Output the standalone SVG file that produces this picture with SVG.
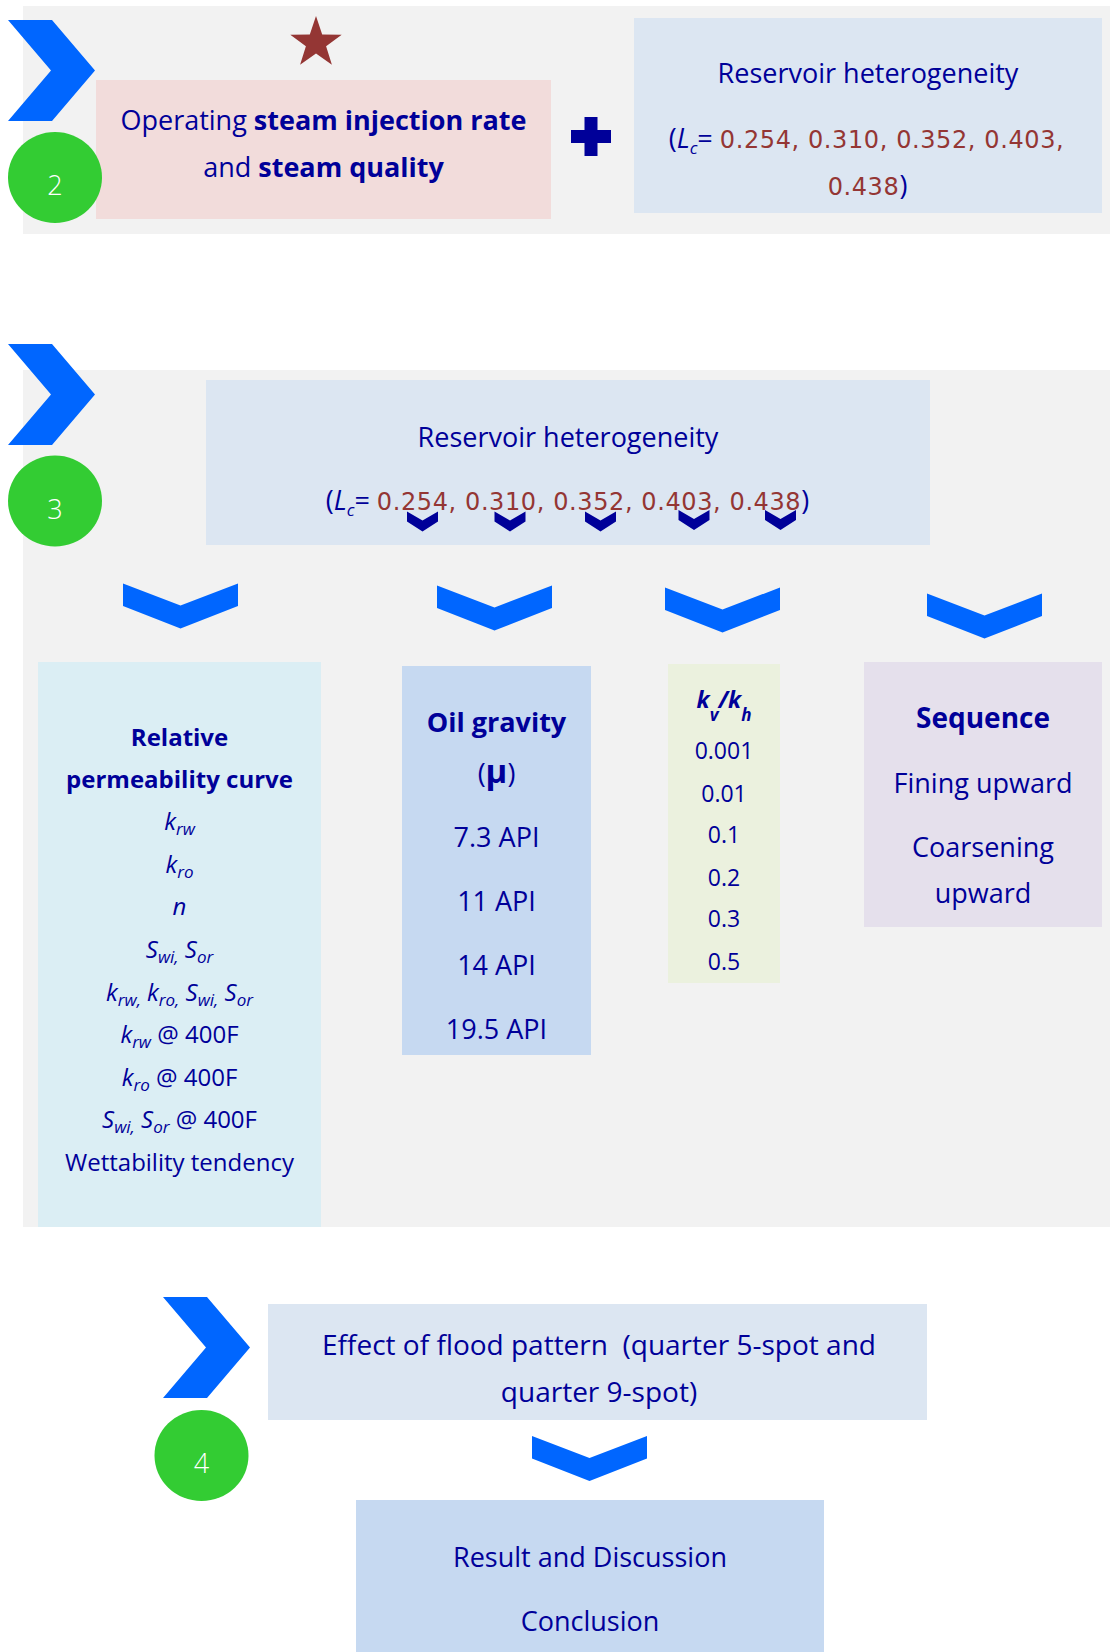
<svg xmlns="http://www.w3.org/2000/svg" xmlns:xlink="http://www.w3.org/1999/xlink" width="1110" height="1652" viewBox="0 0 1110 1652">
<style>
.t{font-family:"Open Sans","Liberation Sans",sans-serif;fill:#000099;text-anchor:middle;font-size:27px}
.b{font-weight:bold}
.i{font-style:italic}
.n{font-style:normal}
.num{font-family:"DejaVu Sans","Liberation Sans",sans-serif;fill:#943634;font-size:24px;font-style:normal;letter-spacing:0.6px}
.sub{font-size:17px}
.lbl{font-size:24px}
.kv{font-size:23px}
.step{fill:#0066FF}
.down{fill:#0066FF}
.small{fill:#000099}
.circ{fill:#33CC33}
.cn{font-family:"Open Sans","Liberation Sans",sans-serif;fill:#FFFFFF;font-size:27px;font-weight:300;text-anchor:middle}
</style>
<defs>
<path id="stepChevron" d="M0,0 H44 L87,50.5 L44,101 H0 L43,50.5 Z"/>
<path id="downChevron" d="M0,0 L57.5,22 L115,0 V22.5 L57.5,45 L0,22.5 Z"/>
<path id="smallChevron" d="M0,0 L15.5,9 L31,0 V10 L15.5,20 L0,10 Z"/>
</defs>
<rect width="1110" height="1652" fill="#FFFFFF"/>

<!-- panels -->
<rect id="panel2" x="23" y="6" width="1087" height="228" fill="#F2F2F2"/>
<rect id="panel3" x="23" y="370" width="1087" height="857" fill="#F2F2F2"/>

<!-- star -->
<polygon id="star" fill="#943634" points="316,16 322.2,34.4 341.7,34.7 326.1,46.3 331.9,64.8 316,53.6 300.1,64.8 305.9,46.3 290.3,34.7 309.8,34.4"/>

<!-- node: operating -->
<g id="operating">
<rect x="96" y="80" width="455" height="139" fill="#F2DCDB"/>
<text x="323.5" y="130" class="t">Operating <tspan class="b">steam injection rate</tspan></text>
<text x="323.5" y="177" class="t">and <tspan class="b">steam quality</tspan></text>
</g>

<!-- plus -->
<path id="plus" fill="#000099" d="M584.5,117 H597.5 V130 H611 V143 H597.5 V156 H584.5 V143 H571 V130 H584.5 Z"/>

<!-- node: reservoir heterogeneity (top) -->
<g id="reservoir2">
<rect x="634" y="18" width="468" height="195" fill="#DCE6F2"/>
<text x="868" y="83" class="t">Reservoir heterogeneity</text>
<text x="866.5" y="148" class="t">(<tspan class="i">L</tspan><tspan class="i sub" dy="6">c</tspan><tspan dy="-6">= </tspan><tspan class="num">0.254, 0.310, 0.352, 0.403,</tspan></text>
<text x="867.5" y="195" class="t"><tspan class="num">0.438</tspan>)</text>
</g>

<!-- node: reservoir heterogeneity (panel 3) -->
<g id="reservoir3">
<rect x="206" y="380" width="724" height="165" fill="#DCE6F2"/>
<text x="568" y="447" class="t">Reservoir heterogeneity</text>
<text x="567.5" y="510" class="t">(<tspan class="i">L</tspan><tspan class="i sub" dy="6">c</tspan><tspan dy="-6">= </tspan><tspan class="num">0.254, 0.310, 0.352, 0.403, 0.438</tspan>)</text>
</g>

<!-- node: relative permeability -->
<g id="relperm">
<rect x="38" y="662" width="283" height="565" fill="#DBEEF4"/>
<text x="179.5" y="746" class="t b lbl">Relative</text>
<text x="179.5" y="788" class="t b lbl">permeability curve</text>
<text x="179.5" y="830" class="t i lbl">k<tspan class="sub" dy="5">rw</tspan></text>
<text x="179.5" y="873" class="t i lbl">k<tspan class="sub" dy="5">ro</tspan></text>
<text x="179.5" y="915" class="t i lbl">n</text>
<text x="179.5" y="958" class="t i lbl">S<tspan class="sub" dy="5">wi,</tspan><tspan dy="-5"> S</tspan><tspan class="sub" dy="5">or</tspan></text>
<text x="179.5" y="1001" class="t i lbl">k<tspan class="sub" dy="5">rw,</tspan><tspan dy="-5"> k</tspan><tspan class="sub" dy="5">ro,</tspan><tspan dy="-5"> S</tspan><tspan class="sub" dy="5">wi,</tspan><tspan dy="-5"> S</tspan><tspan class="sub" dy="5">or</tspan></text>
<text x="179.5" y="1043" class="t i lbl">k<tspan class="sub" dy="5">rw</tspan><tspan class="n" dy="-5"> @ 400F</tspan></text>
<text x="179.5" y="1086" class="t i lbl">k<tspan class="sub" dy="5">ro</tspan><tspan class="n" dy="-5"> @ 400F</tspan></text>
<text x="179.5" y="1128" class="t i lbl">S<tspan class="sub" dy="5">wi,</tspan><tspan dy="-5"> S</tspan><tspan class="sub" dy="5">or</tspan><tspan class="n" dy="-5"> @ 400F</tspan></text>
<text x="179.5" y="1171" class="t lbl">Wettability tendency</text>
</g>

<!-- node: oil gravity -->
<g id="oilgravity">
<rect x="402" y="666" width="189" height="389" fill="#C6D9F1"/>
<text x="496.5" y="732" class="t b">Oil gravity</text>
<text x="496.5" y="783" class="t">(<tspan class="b" style="font-size:33px">μ</tspan>)</text>
<text x="496.5" y="847" class="t">7.3 API</text>
<text x="496.5" y="911" class="t">11 API</text>
<text x="496.5" y="975" class="t">14 API</text>
<text x="496.5" y="1039" class="t">19.5 API</text>
</g>

<!-- node: kv/kh -->
<g id="kvkh">
<rect x="668" y="664" width="112" height="319" fill="#EBF1DE"/>
<text x="724" y="708" class="t b i kv">k<tspan class="sub" dy="13">v</tspan><tspan dy="-13">/k</tspan><tspan class="sub" dy="13">h</tspan></text>
<text x="724" y="759" class="t kv">0.001</text>
<text x="724" y="802" class="t kv">0.01</text>
<text x="724" y="843" class="t kv">0.1</text>
<text x="724" y="886" class="t kv">0.2</text>
<text x="724" y="927" class="t kv">0.3</text>
<text x="724" y="970" class="t kv">0.5</text>
</g>

<!-- node: sequence -->
<g id="sequence">
<rect x="864" y="662" width="238" height="265" fill="#E5E0EC"/>
<text x="983" y="728" class="t b" style="font-size:28px">Sequence</text>
<text x="983" y="793" class="t">Fining upward</text>
<text x="983" y="857" class="t">Coarsening</text>
<text x="983" y="903" class="t">upward</text>
</g>

<!-- node: flood pattern -->
<g id="floodpattern">
<rect x="268" y="1304" width="659" height="116" fill="#DCE6F2"/>
<text x="599" y="1355" class="t" style="font-size:28px">Effect of flood pattern&#160; (quarter 5-spot and</text>
<text x="599" y="1402" class="t" style="font-size:28px">quarter 9-spot)</text>
</g>

<!-- node: result -->
<g id="result">
<rect x="356" y="1500" width="468" height="152" fill="#C6D9F1"/>
<text x="590" y="1567" class="t">Result and Discussion</text>
<text x="590" y="1631" class="t">Conclusion</text>
</g>

<!-- step markers -->
<g id="step2">
<use xlink:href="#stepChevron" class="step" transform="translate(8,20)"/>
<ellipse cx="55" cy="177.5" rx="47" ry="45.5" class="circ"/>
<text x="55" y="195" class="cn">2</text>
</g>
<g id="step3">
<use xlink:href="#stepChevron" class="step" transform="translate(8,344)"/>
<ellipse cx="55" cy="501" rx="47" ry="45.5" class="circ"/>
<text x="55" y="519" class="cn">3</text>
</g>
<g id="step4">
<use xlink:href="#stepChevron" class="step" transform="translate(163,1297)"/>
<ellipse cx="201.5" cy="1455.5" rx="47" ry="45.5" class="circ"/>
<text x="201.5" y="1473" class="cn">4</text>
</g>

<!-- connectors -->
<g id="connectors">
<use xlink:href="#smallChevron" class="small" transform="translate(407,511.5)"/>
<use xlink:href="#smallChevron" class="small" transform="translate(494.5,511.5)"/>
<use xlink:href="#smallChevron" class="small" transform="translate(585,511.5)"/>
<use xlink:href="#smallChevron" class="small" transform="translate(678.5,510)"/>
<use xlink:href="#smallChevron" class="small" transform="translate(765,510)"/>
<use xlink:href="#downChevron" class="down" transform="translate(123,583.5)"/>
<use xlink:href="#downChevron" class="down" transform="translate(437,585.5)"/>
<use xlink:href="#downChevron" class="down" transform="translate(665,587.5)"/>
<use xlink:href="#downChevron" class="down" transform="translate(927,593.5)"/>
<use xlink:href="#downChevron" class="down" transform="translate(532,1436)"/>
</g>
</svg>
